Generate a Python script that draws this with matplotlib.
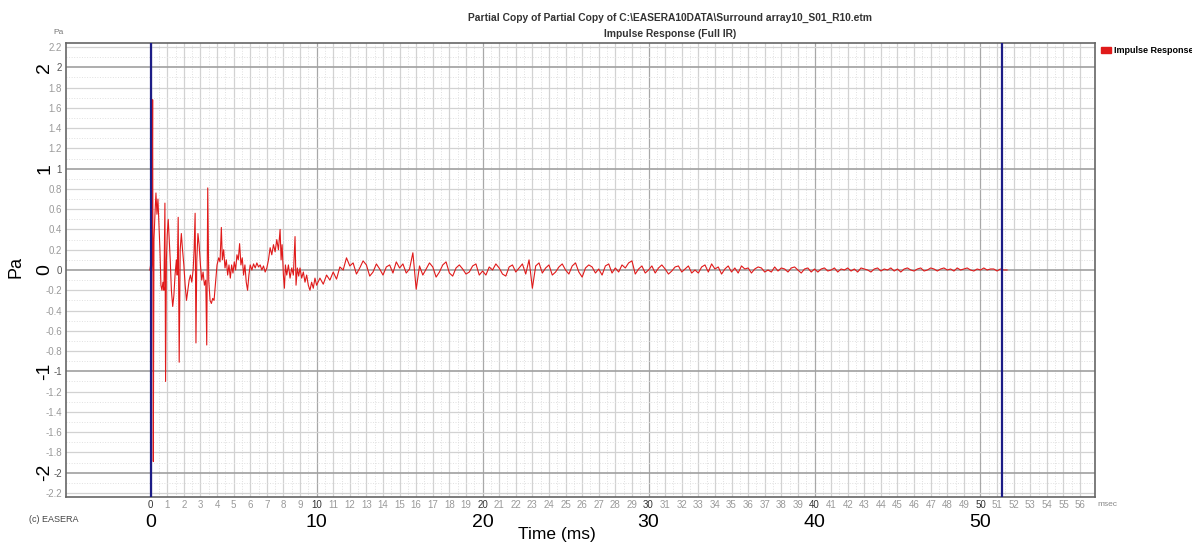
import numpy as np
import matplotlib
matplotlib.use("Agg")
import matplotlib.pyplot as plt
from matplotlib.patches import Patch

plt.rcParams['font.family'] = ['Liberation Sans', 'DejaVu Sans']

# early part of the impulse response (ms, Pa)
t_early = [-0.05, 0.0, 0.04, 0.08, 0.12, 0.16, 0.2, 0.26, 0.32, 0.38, 0.44, 0.5,
           0.56, 0.62, 0.68, 0.74, 0.8, 0.86, 0.9, 0.95, 1.0, 1.06, 1.12, 1.18,
           1.25, 1.33, 1.4, 1.47, 1.55, 1.6, 1.66, 1.72, 1.78, 1.85, 1.92, 2.0,
           2.08, 2.16, 2.24, 2.32, 2.4, 2.48, 2.56, 2.62, 2.68, 2.73, 2.78, 2.85,
           2.92, 3.0, 3.08, 3.16, 3.24, 3.32, 3.38, 3.44, 3.5, 3.58, 3.66, 3.74,
           3.82, 3.9, 4.0, 4.1, 4.18, 4.26, 4.32, 4.4, 4.48, 4.56, 4.64, 4.72,
           4.8, 4.88, 4.96, 5.04, 5.12, 5.2, 5.28, 5.36, 5.44, 5.52, 5.6, 5.68,
           5.76, 5.84, 5.92, 6.0, 6.1, 6.2, 6.3, 6.4, 6.5, 6.6, 6.7, 6.8, 6.9,
           7.0, 7.1, 7.2, 7.3, 7.4, 7.5, 7.6, 7.7, 7.8, 7.86, 7.92, 8.0, 8.06,
           8.12, 8.2, 8.3, 8.4, 8.5, 8.6, 8.7, 8.76, 8.84, 8.92, 9.0, 9.1, 9.2,
           9.3, 9.4, 9.5, 9.6, 9.7, 9.8, 9.9, 10.0]
p_early = [0.0, 0.05, -0.05, 0.08, 1.68, -1.89, 0.3, 0.55, 0.76, 0.55, 0.7, 0.45,
           0.2, -0.15, -0.2, -0.12, -0.2, 0.66, -1.1, 0.1, 0.35, 0.5, 0.3, 0.1,
           -0.2, -0.36, -0.25, -0.05, 0.1, -0.05, 0.52, -0.91, 0.2, 0.36, 0.2, 0.05,
           -0.15, -0.3, -0.2, -0.1, -0.05, -0.12, 0.0, 0.2, 0.56, -0.72, 0.1, 0.36,
           0.25, 0.05, -0.1, -0.02, -0.15, -0.1, -0.74, 0.81, -0.1, -0.3, -0.33, -0.28,
           -0.3, -0.15, 0.05, 0.12, 0.08, 0.42, 0.1, 0.2, 0.02, 0.1, -0.05, 0.05,
           -0.08, 0.05, -0.03, 0.08, 0.0, 0.15, 0.1, 0.26, 0.05, 0.12, -0.05, 0.05,
           -0.12, -0.2, -0.05, 0.05, 0.0, 0.06, 0.02, 0.07, 0.03, 0.05, 0.0, 0.04, -0.02,
           0.02, 0.1, 0.22, 0.15, 0.25, 0.18, 0.3, 0.2, 0.4, 0.1, 0.25, -0.05, -0.18,
           0.05, -0.05, 0.05, -0.08, 0.02, -0.05, 0.33, -0.15, 0.02, -0.06, 0.02, -0.08, -0.02,
           -0.12, -0.05, -0.15, -0.2, -0.12, -0.18, -0.08, -0.15]

# tail, sampled every 0.2 ms from 10.2 ms
tail_start = 10.2
tail_step = 0.2
p_tail = [-0.08, -0.14, -0.05, -0.1, -0.02, -0.09, 0.03, 0.0, 0.12, 0.04,
          0.07, -0.04, 0.02, 0.09, 0.05, -0.06, -0.02, 0.06, 0.01, -0.05,
          0.03, 0.05, -0.03, 0.08, 0.02, 0.06, -0.03, 0.01, 0.17, -0.19,
          0.04, -0.05, 0.01, 0.07, 0.03, -0.07, -0.02, 0.05, 0.08, -0.03,
          -0.06, 0.02, 0.05, 0.01, -0.04, -0.02, 0.04, 0.06, -0.05, -0.01,
          -0.05, 0.03, 0.0, 0.06, 0.02, -0.04, -0.06, 0.03, 0.05, -0.02,
          0.02, 0.06, -0.04, 0.1, -0.18, 0.04, 0.07, -0.03, 0.02, 0.05,
          -0.05, -0.02, 0.03, 0.06, 0.0, -0.04, 0.04, 0.07, -0.02, -0.07,
          0.02, 0.05, 0.03, -0.03, 0.01, -0.05, 0.04, 0.06, -0.03, 0.02,
          -0.02, 0.05, 0.02, 0.07, 0.09, -0.04, 0.01, 0.04, -0.03, 0.0,
          0.04, -0.03, 0.02, 0.05, 0.01, -0.04, -0.01, 0.03, 0.04, -0.02,
          0.01, 0.04, -0.03, 0.0, -0.03, 0.03, 0.05, -0.02, 0.06, 0.01,
          0.03, -0.04, 0.01, 0.04, -0.02, 0.02, -0.03, 0.04, 0.01, 0.02,
          -0.03, 0.01, 0.03, 0.02, -0.02, 0.0, -0.02, 0.03, -0.01, 0.02,
          0.01, -0.02, 0.02, 0.03, 0.0, -0.03, 0.01, 0.02, -0.02, 0.01,
          -0.02, 0.01, 0.02, -0.01, 0.0, 0.02, -0.02, 0.01, 0.0, 0.02,
          -0.01, 0.01, -0.02, 0.02, 0.01, 0.0, -0.02, 0.01, 0.02, -0.01,
          0.01, 0.0, 0.02, -0.01, 0.01, -0.02, 0.01, 0.02, 0.0, -0.01,
          0.01, 0.02, -0.01, 0.0, 0.02, 0.01, -0.01, 0.01, 0.02, 0.0,
          0.01, -0.01, 0.02, 0.0, 0.01, 0.02, 0.0, -0.01, 0.01, 0.0,
          0.02, 0.0, 0.01, 0.01, -0.01, 0.01, 0.0, 0.0]

cursors = [0.0, 51.3]
x_small_ticks = list(range(0, 57))
x_big_ticks = [0, 10, 20, 30, 40, 50]
y_small_ticks = [round(-2.2 + 0.2 * i, 1) for i in range(23)]
y_big_ticks = [-2, -1, 0, 1, 2]

t_tail = tail_start + tail_step * np.arange(len(p_tail))
t = np.concatenate([t_early, t_tail])
p = np.concatenate([p_early, p_tail])

W, H = 1192, 542
fig = plt.figure(figsize=(W / 100, H / 100), dpi=100)
ax = fig.add_axes([66 / W, 1 - 497 / H, (1095 - 66) / W, (497 - 43) / H])

red = '#e01a1a'
ax.plot(t, p, color=red, lw=0.8, zorder=3)
for c in cursors:
    ax.axvline(c, color='#1c1c86', lw=1.6, zorder=4)

ax.set_xlim(-5.1, 56.9)
ax.set_ylim(-2.24, 2.24)

# small grey ticks like the EASERA window
ax.set_xticks(x_small_ticks)
ax.set_xticklabels([str(v) for v in x_small_ticks])
ax.set_xticks(np.arange(0.5, 56.5, 1.0), minor=True)
ax.set_yticks(y_small_ticks)
ax.set_yticklabels([f'{v:g}' for v in y_small_ticks])
ax.set_yticks(np.arange(-2.1, 2.2, 0.2), minor=True)
ax.tick_params(which='both', length=0)
ax.tick_params(axis='x', pad=2, labelsize=7, labelcolor='#9a9a9a')
ax.tick_params(axis='y', pad=3, labelsize=7, labelcolor='#9a9a9a')
for lab, v in zip(ax.get_xticklabels(), x_small_ticks):
    if v % 10 == 0:
        lab.set_color('#333333')
for lab, v in zip(ax.get_yticklabels(), y_small_ticks):
    if abs(v - round(v)) < 1e-6:
        lab.set_color('#555555')

ax.grid(which='major', color='#d2d2d2', lw=0.9)
ax.grid(which='minor', color='#e0e0e0', lw=0.7, ls=':')
for gl, v in zip(ax.get_xgridlines(), x_small_ticks):
    if v % 10 == 0:
        gl.set_color('#a8a8a8')
for gl, v in zip(ax.get_ygridlines(), y_small_ticks):
    if abs(v - round(v)) < 1e-6:
        gl.set_color('#a0a0a0')
        gl.set_linewidth(1.2)
ax.set_axisbelow(True)
for s in ax.spines.values():
    s.set_color('#666666')
    s.set_linewidth(1.2)

# big overlaid labels
sy = ax.secondary_yaxis('left')
sy.set_yticks(y_big_ticks)
sy.set_yticklabels([str(v) for v in y_big_ticks], rotation=90, va='center')
sy.tick_params(length=0, pad=9, labelsize=14)
sy.spines['left'].set_visible(False)

sx = ax.secondary_xaxis('bottom')
sx.set_xticks(x_big_ticks)
sx.set_xticklabels([str(v) for v in x_big_ticks])
sx.tick_params(length=0, pad=12.5, labelsize=14)
sx.spines['bottom'].set_visible(False)

fig.text(16 / W, 1 - 267 / H, 'Pa', rotation=90, fontsize=13, ha='center', va='center')
fig.text(557 / W, 1 - 534 / H, 'Time (ms)', fontsize=12.5, ha='center', va='center')
fig.text(58 / W, 1 - 32 / H, 'Pa', fontsize=6, color='#777777', ha='center', va='center')
fig.text(1097 / W, 1 - 504 / H, 'msec', fontsize=6, color='#888888', ha='left', va='center')
fig.text(29 / W, 1 - 520 / H, '(c) EASERA', fontsize=6.5, color='#444444', ha='left', va='center')

fig.text(670 / W, 1 - 18 / H,
         'Partial Copy of Partial Copy of C:\\EASERA10DATA\\Surround array10_S01_R10.etm',
         fontsize=7.4, fontweight='bold', color='#333333', ha='center', va='center')
fig.text(670 / W, 1 - 34 / H, 'Impulse Response (Full IR)',
         fontsize=7.4, fontweight='bold', color='#333333', ha='center', va='center')

fig.legend(handles=[Patch(color=red, label='Impulse Response')],
           loc='upper left', bbox_to_anchor=(1093 / W, 1 - 38 / H), frameon=False,
           handlelength=1.1, handleheight=0.6, handletextpad=0.3,
           prop={'size': 6.5, 'weight': 'bold'})

fig.savefig('out.png', dpi=100)
